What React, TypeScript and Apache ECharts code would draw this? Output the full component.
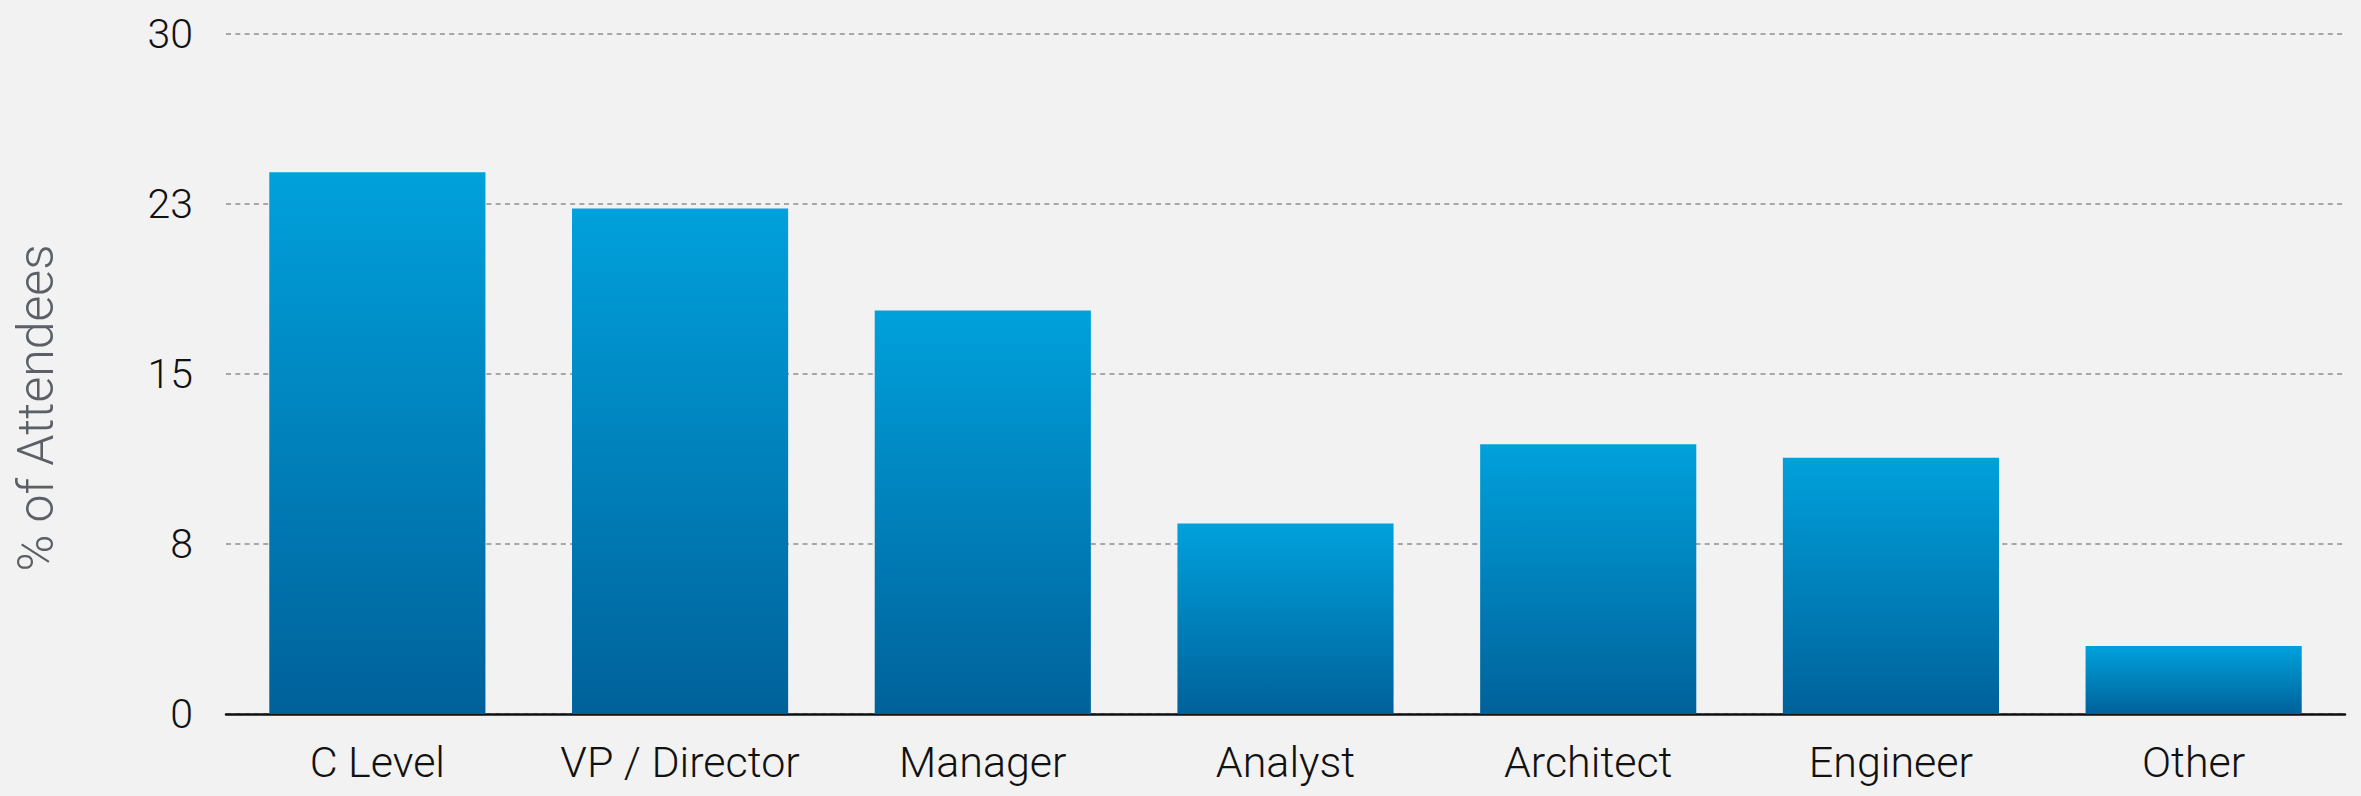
import React, { useEffect, useRef } from "react";
import * as echarts from "echarts";

const categories = ["C Level", "VP / Director", "Manager", "Analyst", "Architect", "Engineer", "Other"];
const percentValues = [23.9, 22.3, 17.8, 8.4, 11.9, 11.3, 3.0];
const yAxisTitle = "% of Attendees";
const yMin = 0;
const yMax = 30;
const yInterval = 7.5;

export default function App() {
  const ref = useRef<HTMLDivElement>(null);
  useEffect(() => {
    if (!ref.current) return;
    const chart = echarts.init(ref.current, undefined, { renderer: "svg" });
    const font = "Roboto, 'Helvetica Neue', Helvetica, Arial, sans-serif";
    chart.setOption({
      animation: false,
      backgroundColor: "#f2f2f2",
      grid: { left: 226, right: 16, top: 34, bottom: 82, containLabel: false },
      graphic: [
        {
          type: "text",
          x: 36,
          y: 408,
          rotation: Math.PI / 2,
          style: {
            text: yAxisTitle,
            fontSize: 50,
            fontWeight: 300,
            fontFamily: font,
            fill: "#5b6067",
            align: "center",
            verticalAlign: "middle",
          },
        },
      ],
      xAxis: {
        type: "category",
        data: categories,
        axisLine: { show: true, lineStyle: { color: "#111", width: 2.5 } },
        axisTick: { show: false },
        axisLabel: {
          interval: 0,
          color: "#111",
          fontSize: 43,
          fontWeight: 300,
          fontFamily: font,
          margin: 26,
        },
      },
      yAxis: {
        type: "value",
        min: yMin,
        max: yMax,
        interval: yInterval,
        axisLine: { show: false },
        axisTick: { show: false },
        axisLabel: {
          color: "#111",
          fontSize: 41,
          fontWeight: 300,
          fontFamily: font,
          margin: 33,
          formatter: (v: number) => String(Math.round(v)),
        },
        splitLine: {
          show: true,
          lineStyle: { color: "#8f8f8f", width: 1.5, type: [5, 4.3] },
        },
      },
      series: [
        {
          type: "bar",
          data: percentValues,
          barCategoryGap: "28.6%",
          itemStyle: {
            color: new echarts.graphic.LinearGradient(0, 0, 0, 1, [
              { offset: 0, color: "#00a1dc" },
              { offset: 1, color: "#00619a" },
            ]),
          },
        },
      ],
    });
    return () => chart.dispose();
  }, []);
  return (
    <div
      ref={ref}
      style={{ position: "fixed", left: 0, top: 0, width: 2361, height: 796 }}
    />
  );
}
